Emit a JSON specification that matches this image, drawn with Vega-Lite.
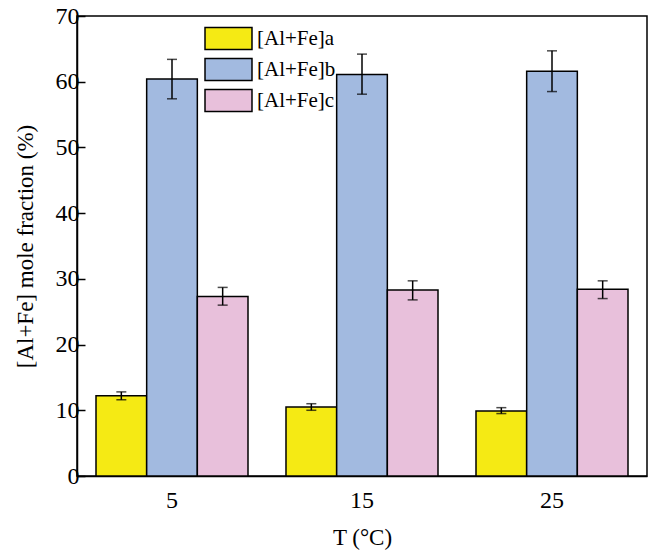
{
  "$schema": "https://vega.github.io/schema/vega-lite/v6.json",
  "width": 570,
  "height": 460,
  "autosize": {"type": "none"},
  "padding": {"left": 77, "top": 16, "right": 2, "bottom": 76},
  "background": "white",
  "config": {
    "font": "Liberation Serif",
    "view": {"stroke": "black", "strokeWidth": 1.5},
    "axis": {
      "domainColor": "black",
      "domainWidth": 1.5,
      "tickColor": "black",
      "tickWidth": 1.5,
      "labelColor": "black",
      "titleColor": "black",
      "labelFont": "Liberation Serif",
      "titleFont": "Liberation Serif",
      "labelFontSize": 24,
      "titleFontSize": 23,
      "titleFontWeight": "normal",
      "grid": false
    }
  },
  "data": {
    "values": [
      {"T": "5", "series": "[Al+Fe]a", "value": 12.2, "lo": 11.6, "hi": 12.8},
      {"T": "5", "series": "[Al+Fe]b", "value": 60.4, "lo": 57.4, "hi": 63.4},
      {"T": "5", "series": "[Al+Fe]c", "value": 27.3, "lo": 26.0, "hi": 28.7},
      {"T": "15", "series": "[Al+Fe]a", "value": 10.5, "lo": 10.0, "hi": 11.0},
      {"T": "15", "series": "[Al+Fe]b", "value": 61.1, "lo": 58.1, "hi": 64.2},
      {"T": "15", "series": "[Al+Fe]c", "value": 28.3, "lo": 26.8, "hi": 29.7},
      {"T": "25", "series": "[Al+Fe]a", "value": 9.9, "lo": 9.5, "hi": 10.4},
      {"T": "25", "series": "[Al+Fe]b", "value": 61.6, "lo": 58.5, "hi": 64.7},
      {"T": "25", "series": "[Al+Fe]c", "value": 28.4, "lo": 27.0, "hi": 29.7}
    ]
  },
  "encoding": {
    "x": {
      "field": "T",
      "type": "nominal",
      "sort": ["5", "15", "25"],
      "scale": {"paddingInner": 0.2, "paddingOuter": 0.1},
      "axis": {"title": "T (°C)", "labelAngle": 0, "ticks": false, "labelPadding": 12, "titlePadding": 14}
    },
    "xOffset": {
      "field": "series",
      "type": "nominal",
      "scale": {"paddingInner": 0, "paddingOuter": 0}
    }
  },
  "layer": [
    {
      "mark": {"type": "bar", "stroke": "black", "strokeWidth": 1.5, "opacity": 1},
      "encoding": {
        "y": {
          "field": "value",
          "type": "quantitative",
          "scale": {"domain": [0, 70]},
          "axis": {
            "title": "[Al+Fe] mole fraction (%)",
            "values": [0, 10, 20, 30, 40, 50, 60, 70],
            "tickSize": -8,
            "labelPadding": 6,
            "titlePadding": 18
          }
        },
        "fill": {
          "field": "series",
          "type": "nominal",
          "scale": {"range": ["#F5EA14", "#A2BAE0", "#E8C0DB"]},
          "legend": {
            "orient": "none",
            "legendX": 139,
            "legendY": 10,
            "title": null,
            "padding": 0,
            "symbolType": "M-2,-0.94H2V0.94H-2Z",
            "symbolSize": 552,
            "symbolStrokeColor": "black",
            "symbolStrokeWidth": 1.5,
            "symbolOpacity": 1,
            "labelFont": "Liberation Serif",
            "labelFontSize": 21,
            "labelColor": "black",
            "labelOffset": 16,
            "rowPadding": 2
          }
        }
      }
    },
    {
      "mark": {"type": "rule", "color": "black", "strokeWidth": 1.5},
      "encoding": {
        "y": {"field": "lo", "type": "quantitative"},
        "y2": {"field": "hi"}
      }
    },
    {
      "mark": {"type": "tick", "orient": "horizontal", "color": "black", "thickness": 1.5, "size": 10},
      "encoding": {"y": {"field": "lo", "type": "quantitative"}}
    },
    {
      "mark": {"type": "tick", "orient": "horizontal", "color": "black", "thickness": 1.5, "size": 10},
      "encoding": {"y": {"field": "hi", "type": "quantitative"}}
    }
  ]
}
